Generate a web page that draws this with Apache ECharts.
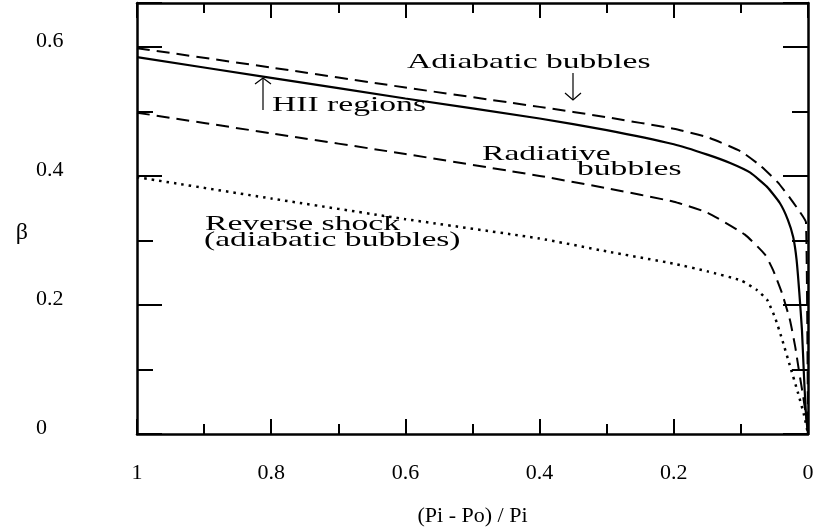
<!DOCTYPE html>
<html>
<head>
<meta charset="utf-8">
<script src="https://cdn.jsdelivr.net/npm/echarts@6/dist/echarts.min.js"></script>
<style>
html,body{margin:0;padding:0;background:#fff;}
#chart{width:815px;height:529px;}
</style>
</head>
<body>
<div id="chart"></div>
<script>
// ---- data ----
const xTickValues = [0, 0.2, 0.4, 0.6, 0.8, 1];
const xTickLabels = ['0', '0.2', '0.4', '0.6', '0.8', '1'];
const yTickValues = [0, 0.2, 0.4, 0.6];
const yTickLabels = ['0', '0.2', '0.4', '0.6'];

const adiabaticX = [1, 0.8, 0.6, 0.4, 0.3, 0.2, 0.15, 0.1, 0.07, 0.045, 0.027, 0.012, 0.003, 0];
const adiabaticY = [0.598, 0.568, 0.537, 0.507, 0.491, 0.473, 0.460, 0.438, 0.415, 0.390, 0.366, 0.344, 0.328, 0];

const hiiX = [1, 0.8, 0.6, 0.4, 0.3, 0.2, 0.15, 0.116, 0.086, 0.061, 0.042, 0.030, 0.022, 0.017, 0.013, 0.009, 0.006, 0.003, 0];
const hiiY = [0.584, 0.552, 0.520, 0.489, 0.471, 0.449, 0.433, 0.420, 0.405, 0.383, 0.358, 0.332, 0.305, 0.270, 0.220, 0.161, 0.090, 0.030, 0];

const radiativeX = [1, 0.8, 0.6, 0.4, 0.3, 0.2, 0.15, 0.094, 0.064, 0.052, 0.039, 0.027, 0.019, 0.013, 0.007, 0.0015, 0];
const radiativeY = [0.498, 0.466, 0.434, 0.400, 0.381, 0.360, 0.343, 0.309, 0.278, 0.254, 0.219, 0.177, 0.135, 0.095, 0.057, 0.017, 0];

const reverseX = [1, 0.8, 0.6, 0.4, 0.3, 0.2, 0.15, 0.1, 0.076, 0.061, 0.049, 0.039, 0.027, 0.015, 0.006, 0];
const reverseY = [0.398, 0.365, 0.333, 0.303, 0.283, 0.264, 0.252, 0.238, 0.223, 0.208, 0.180, 0.148, 0.106, 0.064, 0.030, 0];

const xAxisTitle = '(Pi - Po) / Pi';
const yAxisTitle = 'β';

// ---- chart ----
const FONT = '"Liberation Serif", "Times New Roman", serif';
function pairs(xs, ys) { return xs.map((x, i) => [x, ys[i]]); }
function labelFor(values, labels) {
  return function (v) {
    for (let i = 0; i < values.length; i++) if (Math.abs(v - values[i]) < 1e-9) return labels[i];
    return '';
  };
}
const black = '#000';
const axisLine = { show: true, onZero: false, lineStyle: { color: black, width: 2.5 } };

function xAx(pos, showLabel) {
  return {
    type: 'value', position: pos, min: 0, max: 1, interval: 0.2, inverse: true,
    axisLine: axisLine,
    axisTick: { show: true, inside: true, length: 15, lineStyle: { color: black, width: 2 } },
    minorTick: { show: true, splitNumber: 2, length: 10, lineStyle: { color: black, width: 2 } },
    splitLine: { show: false }, minorSplitLine: { show: false },
    axisLabel: {
      show: showLabel, margin: 28, color: black, fontFamily: FONT, fontSize: 22,
      formatter: labelFor(xTickValues, xTickLabels)
    },
    name: showLabel ? xAxisTitle : '', nameLocation: 'middle', nameGap: 71,
    nameTextStyle: { color: black, fontFamily: FONT, fontSize: 22 }
  };
}
function yAx(pos, showLabel) {
  return {
    type: 'value', position: pos, min: 0, max: 0.668, interval: 0.2,
    axisLine: axisLine,
    axisTick: { show: true, inside: true, length: 25, lineStyle: { color: black, width: 2 } },
    minorTick: { show: true, splitNumber: 2, length: 16, lineStyle: { color: black, width: 2 } },
    splitLine: { show: false }, minorSplitLine: { show: false },
    axisLabel: {
      show: showLabel, margin: 101, align: 'left', verticalAlign: 'bottom', lineHeight: 12,
      color: black, fontFamily: FONT, fontSize: 22, showMaxLabel: false,
      formatter: labelFor(yTickValues, yTickLabels)
    },
    name: showLabel ? yAxisTitle : '', nameLocation: 'middle', nameRotate: 0, nameGap: 109,
    nameTextStyle: { color: black, fontFamily: FONT, fontSize: 24, verticalAlign: 'top', lineHeight: 28 }
  };
}

function lineSeries(name, xs, ys, type, width) {
  return {
    name: name, type: 'line', data: pairs(xs, ys), showSymbol: false, symbol: 'none',
    smooth: 0.15, xAxisIndex: 0, yAxisIndex: 0,
    lineStyle: { color: black, width: width, type: type, cap: 'butt' },
    emphasis: { disabled: true }, animation: false
  };
}

const textStyle = (t) => ({ text: t, font: '21px ' + FONT, fill: black, align: 'left', verticalAlign: 'middle' });
function label(t, x, y) {
  return { type: 'text', x: x, y: y, scaleX: 1.6, style: textStyle(t), z: 100 };
}

const chart = echarts.init(document.getElementById('chart'), null, { renderer: 'canvas' });
chart.setOption({
  animation: false,
  backgroundColor: '#fff',
  grid: { left: 137, right: 7, top: 3, bottom: 95, containLabel: false, outerBoundsMode: 'none' },
  xAxis: [xAx('bottom', true), xAx('top', false)],
  yAxis: [yAx('left', true), yAx('right', false)],
  series: [
    lineSeries('Adiabatic bubbles', adiabaticX, adiabaticY, [13, 7], 2),
    lineSeries('HII regions', hiiX, hiiY, 'solid', 2.2),
    lineSeries('Radiative bubbles', radiativeX, radiativeY, [13, 7], 2),
    lineSeries('Reverse shock', reverseX, reverseY, [2.5, 5], 2.5)
  ],
  graphic: [
    label('Adiabatic bubbles', 407, 62),
    label('HII regions', 272, 105),
    label('Radiative', 482, 154),
    label('bubbles', 577, 169),
    label('Reverse shock', 205, 224),
    label('(adiabatic bubbles)', 204, 240),
    { type: 'line', shape: { x1: 263, y1: 110, x2: 263, y2: 78 }, style: { stroke: black, lineWidth: 1.2 } },
    { type: 'polyline', shape: { points: [[255, 84], [263, 78], [271, 84]] }, style: { stroke: black, lineWidth: 1.2, fill: null } },
    { type: 'line', shape: { x1: 573, y1: 73, x2: 573, y2: 100 }, style: { stroke: black, lineWidth: 1.2 } },
    { type: 'polyline', shape: { points: [[565, 93], [573, 100], [581, 93]] }, style: { stroke: black, lineWidth: 1.2, fill: null } }
  ]
});
</script>
</body>
</html>
